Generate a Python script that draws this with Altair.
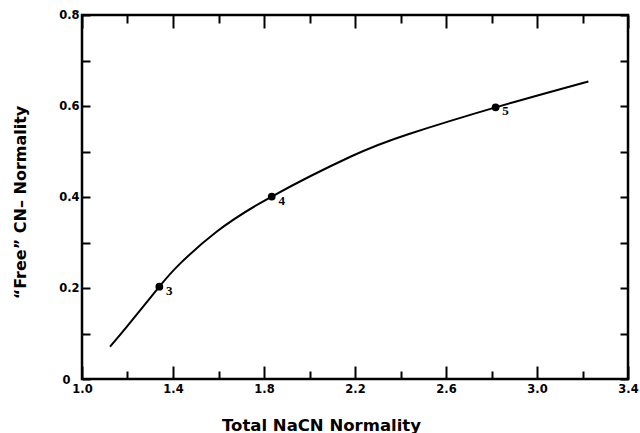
import altair as alt
import pandas as pd

# ---- data ----
curve_x = [1.123, 1.20, 1.34, 1.43, 1.59, 1.834, 2.182, 2.434, 2.818, 3.226]
curve_y = [0.071, 0.117, 0.203, 0.253, 0.323, 0.401, 0.489, 0.538, 0.597, 0.654]

point_x = [1.34, 1.834, 2.818]
point_y = [0.203, 0.401, 0.597]
point_labels = ["3", "4", "5"]

x_major = [1.0, 1.4, 1.8, 2.2, 2.6, 3.0, 3.4]
x_minor = [1.2, 1.6, 2.0, 2.4, 2.8, 3.2]
y_ticks = [0.0, 0.1, 0.2, 0.3, 0.4, 0.5, 0.6, 0.7, 0.8]

x_title = "Total NaCN Normality"
y_title = "\u201cFree\u201d CN\u2013 Normality"

curve = pd.DataFrame({"x": curve_x, "y": curve_y})
pts = pd.DataFrame({"x": point_x, "y": point_y, "lab": point_labels})

FONT = "DejaVu Sans"
xs = alt.Scale(domain=[1.0, 3.4], nice=False, zero=False)
ys = alt.Scale(domain=[0.0, 0.8], nice=False, zero=False)

tick_common = dict(domain=False, grid=False, tickColor="black", tickWidth=2)

ax_bottom_major = alt.Axis(
    orient="bottom", values=x_major, offset=-13, tickSize=13, format=".1f",
    labelFont=FONT, labelFontWeight="bold", labelFontSize=11.5, labelColor="black",
    labelPadding=4, labelFlush=False,
    title=x_title, titleFont=FONT, titleFontWeight="bold", titleFontSize=16.5,
    titleColor="black", titleX=239, titleY=64, titleBaseline="alphabetic",
    titleAnchor="middle", titleAlign="center",
    **tick_common)
ax_bottom_minor = alt.Axis(orient="bottom", values=x_minor, offset=-8, tickSize=8,
                           labels=False, title=None, **tick_common)
ax_top_major = alt.Axis(orient="top", values=x_major, offset=-13, tickSize=13,
                        labels=False, title=None, **tick_common)
ax_top_minor = alt.Axis(orient="top", values=x_minor, offset=-8, tickSize=8,
                        labels=False, title=None, **tick_common)

ax_left = alt.Axis(
    orient="left", values=y_ticks, offset=-8, tickSize=8,
    labelExpr="datum.value == 0 ? '0' : (round(datum.value*10) % 2 == 0 ? format(datum.value, '.1f') : '')",
    labelFont=FONT, labelFontWeight="bold", labelFontSize=11.5, labelColor="black",
    labelPadding={"condition": {"test": "datum.value == 0", "value": 12}, "value": 3},
    labelOffset={"condition": {"test": "datum.value == 0", "value": 1}, "value": 0},
    labelFlush=False,
    title=y_title, titleFont=FONT, titleFontWeight="bold", titleFontSize=16,
    titleColor="black", titleAngle=270, titleX=-70, titleY=187,
    titleBaseline="middle", titleAlign="center",
    **tick_common)
ax_right = alt.Axis(orient="right", values=y_ticks, offset=-8, tickSize=8,
                    labels=False, title=None, **tick_common)

line = alt.Chart(curve).mark_line(color="black", strokeWidth=2, interpolate="natural").encode(
    x=alt.X("x:Q", scale=xs, axis=ax_bottom_major),
    y=alt.Y("y:Q", scale=ys, axis=ax_left),
)

dots = alt.Chart(pts).mark_point(filled=True, color="black", size=60, opacity=1).encode(
    x=alt.X("x:Q", scale=xs, axis=ax_bottom_minor),
    y=alt.Y("y:Q", scale=ys, axis=ax_right),
)

labels = alt.Chart(pts).mark_text(
    font="Liberation Serif", fontSize=13, fontWeight="bold", color="black",
    dx=10, dy=4, align="center", baseline="middle"
).encode(
    x=alt.X("x:Q", scale=xs, axis=ax_top_major),
    y=alt.Y("y:Q", scale=ys, axis=None),
    text="lab:N",
)

ghost = alt.Chart(pts).mark_point(opacity=0).encode(
    x=alt.X("x:Q", scale=xs, axis=ax_top_minor),
    y=alt.Y("y:Q", scale=ys, axis=None),
)

chart = alt.layer(line, dots, labels, ghost).resolve_axis(
    x="independent", y="independent"
).properties(
    width=546, height=364,
    autosize=alt.AutoSizeParams(type="none"),
    padding={"left": 82, "top": 15, "right": 12, "bottom": 54},
    background="white",
).configure_view(stroke="black", strokeWidth=2.5)

chart.save("out.html", embed_options={"renderer": "svg", "actions": False})
